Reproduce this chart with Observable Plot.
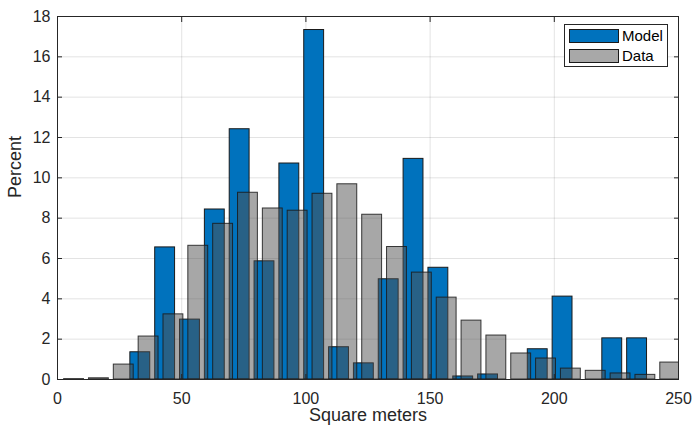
<!DOCTYPE html>
<html><head><meta charset="utf-8">
<script src="https://cdn.jsdelivr.net/npm/d3@7"></script>
<script src="https://cdn.jsdelivr.net/npm/@observablehq/plot@0.6"></script>
<style>
body{margin:0;background:#fff;font-family:"Liberation Sans",Arial,sans-serif;}
#wrap{position:relative;width:695px;height:431px;}
#legend{position:absolute;left:564px;top:24px;width:104px;height:43px;border:1px solid #262626;background:#fff;font-size:15px;color:#000;box-sizing:border-box;}
.row{position:absolute;left:4px;height:15px;display:flex;align-items:center;}
.sw{width:50px;height:14px;box-sizing:border-box;border:1px solid #1a1a1a;margin-right:3px;}
</style></head>
<body>
<div id="wrap"><div id="legend">
<div class="row" style="top:3px"><div class="sw" style="background:#0072BD"></div><span>Model</span></div>
<div class="row" style="top:23px"><div class="sw" style="background:#a8a8a8"></div><span>Data</span></div>
</div></div>
<script>
const binCenters = [5,15,25,35,45,55,65,75,85,95,105,115,125,135,145,155,165,175,185,195,205,215,225,235,245];
const modelPct = [0,0,0,1.35,6.55,2.97,8.43,12.41,5.86,10.71,17.33,1.6,0.8,4.97,10.94,5.54,0.15,0.25,0,1.5,4.11,0,2.04,2.04,0];
const dataPct = [0.02,0.06,0.74,2.13,3.23,6.63,7.72,9.26,8.48,8.37,9.21,9.68,8.17,6.57,5.3,4.06,2.92,2.18,1.29,1.04,0.54,0.43,0.3,0.23,0.84];
const xTicks = [0,50,100,150,200,250];
const yTicks = [0,2,4,6,8,10,12,14,16,18];
const seriesNames = ["Model","Data"];

const barW = 8, off = 1.67;
const modelRows = binCenters.map((c,i)=>({c, v: modelPct[i]})).filter(d=>d.v>0);
const dataRows = binCenters.map((c,i)=>({c, v: dataPct[i]}));

const chart = Plot.plot({
  width: 695, height: 431,
  marginLeft: 57, marginRight: 17, marginTop: 16, marginBottom: 52,
  style: {fontFamily: "Liberation Sans, Arial, sans-serif", fontSize: "16px", color: "#262626", background: "#fff"},
  x: {domain: [0,250]},
  y: {domain: [0,18]},
  marks: [
    Plot.gridX(xTicks, {stroke: "#262626", strokeOpacity: 0.13}),
    Plot.gridY(yTicks, {stroke: "#262626", strokeOpacity: 0.13}),
    Plot.rectY(modelRows, {x1: d=>d.c-off-barW/2, x2: d=>d.c-off+barW/2, y: "v", fill: "#0072BD", stroke: "#1a1a1a", strokeWidth: 1, clip: true}),
    Plot.rectY(dataRows, {x1: d=>d.c+off-barW/2, x2: d=>d.c+off+barW/2, y: "v", fill: "#505050", fillOpacity: 0.5, stroke: "#1a1a1a", strokeOpacity: 0.85, strokeWidth: 1, clip: true}),
    Plot.frame({stroke: "#262626"}),
    Plot.axisX(xTicks, {anchor: "bottom", tickSize: -5, tickPadding: 18, label: null, fontSize: 16}),
    Plot.axisX(xTicks, {anchor: "top", tickSize: -5, tickFormat: () => "", label: null}),
    Plot.axisY(yTicks, {anchor: "left", tickSize: -5, tickPadding: 12, label: null, fontSize: 16}),
    Plot.axisY(yTicks, {anchor: "right", tickSize: -5, tickFormat: () => "", label: null}),
    Plot.text(["Square meters"], {text: d=>d, frameAnchor: "bottom", dy: 41.5, fontSize: 18, fill: "#262626"}),
    Plot.text(["Percent"], {text: d=>d, frameAnchor: "left", dx: -42, rotate: -90, fontSize: 18, fill: "#262626"})
  ]
});
document.getElementById("wrap").prepend(chart);
</script>
</body></html>
